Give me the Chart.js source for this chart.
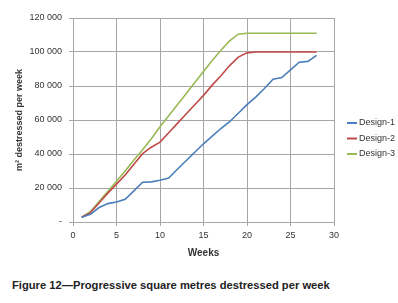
<!DOCTYPE html>
<html>
<head>
<meta charset="utf-8">
<script src="https://cdn.jsdelivr.net/npm/chart.js@4"></script>
<style>
  html, body { margin: 0; padding: 0; background: #fff; }
  #wrap { position: relative; width: 398px; height: 303px; }
  #box { position: absolute; left: 0; top: 0; width: 398px; height: 265px; }
  #caption {
    position: absolute; left: 12px; top: 279px;
    font-family: "Liberation Sans", Arial, sans-serif; font-weight: bold;
    font-size: 11.2px; color: #222; white-space: nowrap;
  }
</style>
</head>
<body>
<div id="wrap">
  <div id="box"><canvas id="chart"></canvas></div>
  <div id="caption">Figure 12—Progressive square metres destressed per week</div>
</div>
<script>
// weeks and series
const weeks = [1, 2, 3, 4, 5, 6, 7, 8, 9, 10, 11, 12, 13, 14, 15, 16, 17, 18, 19, 20, 21, 22, 23, 24, 25, 26, 27, 28];
const design1 = [2800, 4500, 8500, 10800, 11800, 13400, 18300, 23400, 23600, 24600, 25800, 31000, 36000, 41000,
  46000, 50500, 55000, 59000, 64000, 69000, 73500, 78500, 84000, 85000, 89500, 94000, 94500, 98000];
const design2 = [2800, 5500, 11200, 17000, 22300, 27600, 34000, 40200, 44000, 47000, 52500, 58000, 63500, 69000,
  74500, 80500, 86000, 92000, 97000, 99500, 100000, 100000, 100000, 100000, 100000, 100000, 100000, 100000];
const design3 = [2800, 6000, 12000, 18000, 24000, 30000, 36500, 42500, 49000, 56000, 62500, 69000, 75500, 82000,
  88500, 95000, 101000, 106500, 110500, 111000, 111000, 111000, 111000, 111000, 111000, 111000, 111000, 111000];
const seriesNames = ["Design-1", "Design-2", "Design-3"];
const seriesColors = ["#4a7ebb", "#be4b48", "#98b954"];

const toPoints = (vals) => vals.map((v, i) => ({ x: weeks[i], y: v }));

// simple legend drawn at the right, like the excel one
const sideLegend = {
  id: "sideLegend",
  afterDraw(chart) {
    const ctx = chart.ctx;
    ctx.save();
    ctx.font = "9px 'Liberation Sans', Arial, sans-serif";
    ctx.textBaseline = "middle";
    chart.data.datasets.forEach((ds, i) => {
      const y = 123 + i * 15.5;
      ctx.strokeStyle = ds.borderColor;
      ctx.lineWidth = 2;
      ctx.beginPath();
      ctx.moveTo(347, y);
      ctx.lineTo(357, y);
      ctx.stroke();
      ctx.fillStyle = "#333";
      ctx.fillText(ds.label, 359, y);
    });
    ctx.restore();
  },
};

const ctx = document.getElementById("chart").getContext("2d");
const chart = new Chart(ctx, {
  type: "line",
  data: {
    datasets: seriesNames.map((name, i) => ({
      label: name,
      data: toPoints([design1, design2, design3][i]),
      borderColor: seriesColors[i],
      backgroundColor: seriesColors[i],
      borderWidth: 1.6,
      pointRadius: 0,
      tension: 0,
    })),
  },
  options: {
    responsive: true,
    maintainAspectRatio: false,
    animation: false,
    layout: { padding: { left: 0, right: 64, top: 18, bottom: 0 } },
    scales: {
      x: {
        type: "linear",
        min: 0,
        max: 30,
        ticks: {
          stepSize: 5,
          padding: 4,
          color: "#333",
          font: { family: "'Liberation Sans', Arial, sans-serif", size: 9 },
        },
        grid: { color: "#a6a6a6", tickLength: 4, lineWidth: 1 },
        border: { color: "#a6a6a6" },
        title: {
          display: true,
          text: "Weeks",
          color: "#333",
          font: { family: "'Liberation Sans', Arial, sans-serif", size: 10, weight: "bold" },
          padding: { top: 0, bottom: 6 },
        },
        afterFit(scale) { scale.height = 43; },
      },
      y: {
        min: 0,
        max: 120000,
        ticks: {
          stepSize: 20000,
          padding: 7,
          color: "#333",
          font: { family: "'Liberation Sans', Arial, sans-serif", size: 9 },
          callback: (v) => (v === 0 ? "-" : v.toLocaleString("en-US").replace(/,/g, " ")),
        },
        grid: { color: "#a6a6a6", tickLength: 4, lineWidth: 1 },
        border: { color: "#a6a6a6" },
        title: {
          display: true,
          text: "m² destressed per week",
          color: "#333",
          font: { family: "'Liberation Sans', Arial, sans-serif", size: 9, weight: "bold" },
          padding: { top: 14, bottom: 0 },
        },
        afterFit(scale) { scale.width = 73; },
      },
    },
    plugins: {
      legend: { display: false },
      tooltip: { enabled: false },
    },
  },
  plugins: [sideLegend],
});
</script>
</body>
</html>
